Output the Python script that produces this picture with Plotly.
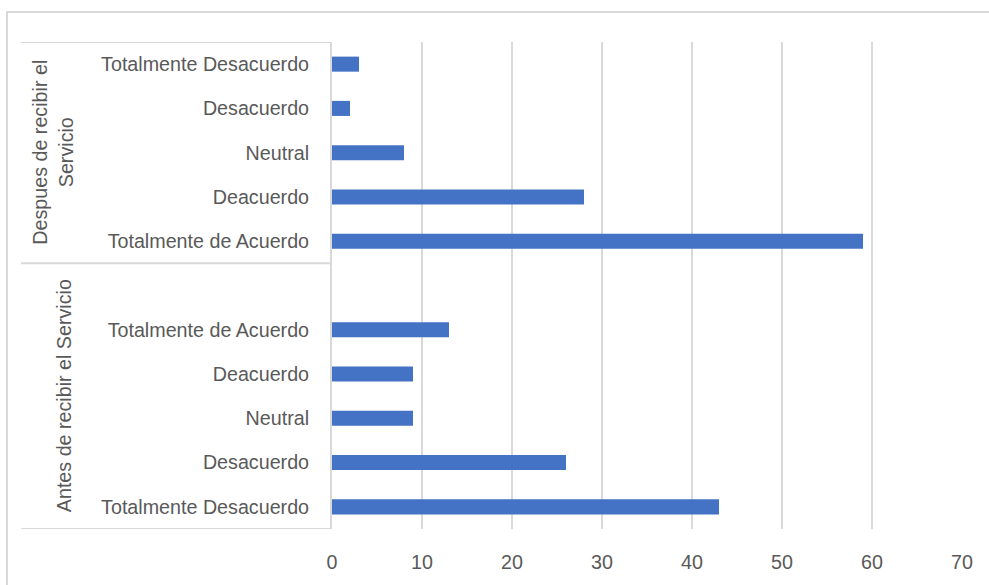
import plotly.graph_objects as go

groups = ["Antes de recibir el Servicio", "Despues de recibir el<br>Servicio"]
categories_antes = ["Totalmente Desacuerdo", "Desacuerdo", "Neutral", "Deacuerdo", "Totalmente de Acuerdo"]
values_antes = [43, 26, 9, 9, 13]
categories_despues = ["Totalmente de Acuerdo", "Deacuerdo", "Neutral", "Desacuerdo", "Totalmente Desacuerdo"]
values_despues = [59, 28, 8, 2, 3]
x_ticks = [0, 10, 20, 30, 40, 50, 60, 70]

# bottom-to-top rows: Antes group, one blank row, Despues group
labels = categories_antes + [""] + categories_despues
values = values_antes + [None] + values_despues
ypos = list(range(len(labels)))

FONT = "Liberation Sans, Arial, sans-serif"
FS = 19.7
TXT = "#595959"
GRID = "#D9D9D9"

fig = go.Figure()
fig.add_trace(go.Bar(
    x=values, y=ypos, orientation="h",
    marker=dict(color="#4472C4", line=dict(width=0)),
    width=0.34, hoverinfo="x",
))

n_antes = len(categories_antes) + 1
sep = n_antes - 0.5
top = len(labels) - 0.5
bottom = -0.5

fig.update_layout(
    width=989, height=585,
    margin=dict(l=332, r=27, t=42, b=54),
    paper_bgcolor="white", plot_bgcolor="white",
    showlegend=False,
    font=dict(family=FONT, size=FS, color=TXT),
    xaxis=dict(
        range=[0, 70], tickvals=x_ticks, ticktext=[str(v) for v in x_ticks],
        showgrid=True, gridcolor=GRID, gridwidth=2, zeroline=False,
        showline=False, ticks="outside", ticklen=15, tickcolor="rgba(0,0,0,0)",
        tickfont=dict(family=FONT, size=FS, color=TXT), fixedrange=True,
    ),
    yaxis=dict(
        range=[bottom, top], tickvals=ypos, ticktext=labels,
        showgrid=False, zeroline=False, showline=True, linecolor=GRID, linewidth=2,
        ticks="outside", ticklen=17, tickcolor="rgba(0,0,0,0)",
        tickfont=dict(family=FONT, size=FS, color=TXT), fixedrange=True,
    ),
)

# chart outer border (cropped on right and bottom)
fig.add_shape(type="rect", xref="paper", yref="paper",
              x0=(7 - 332) / 630, x1=1.2, y0=-0.3, y1=(531 - 12) / 489,
              line=dict(color=GRID, width=2), layer="below")

# category table lines
xl = (21 - 332) / 630
for yv in [top, sep, bottom]:
    fig.add_shape(type="line", xref="paper", yref="y", x0=xl, x1=0, y0=yv, y1=yv,
                  line=dict(color=GRID, width=2))

# group labels
fig.add_annotation(text=groups[0], xref="paper", yref="y",
                   x=(64 - 332) / 630, y=(bottom + sep) / 2,
                   textangle=-90, showarrow=False, xanchor="center", yanchor="middle",
                   font=dict(family=FONT, size=FS, color=TXT))
fig.add_annotation(text=groups[1], xref="paper", yref="y",
                   x=(53 - 332) / 630, y=(sep + top) / 2,
                   textangle=-90, showarrow=False, xanchor="center", yanchor="middle",
                   font=dict(family=FONT, size=FS, color=TXT))

fig.write_html("out.html")
